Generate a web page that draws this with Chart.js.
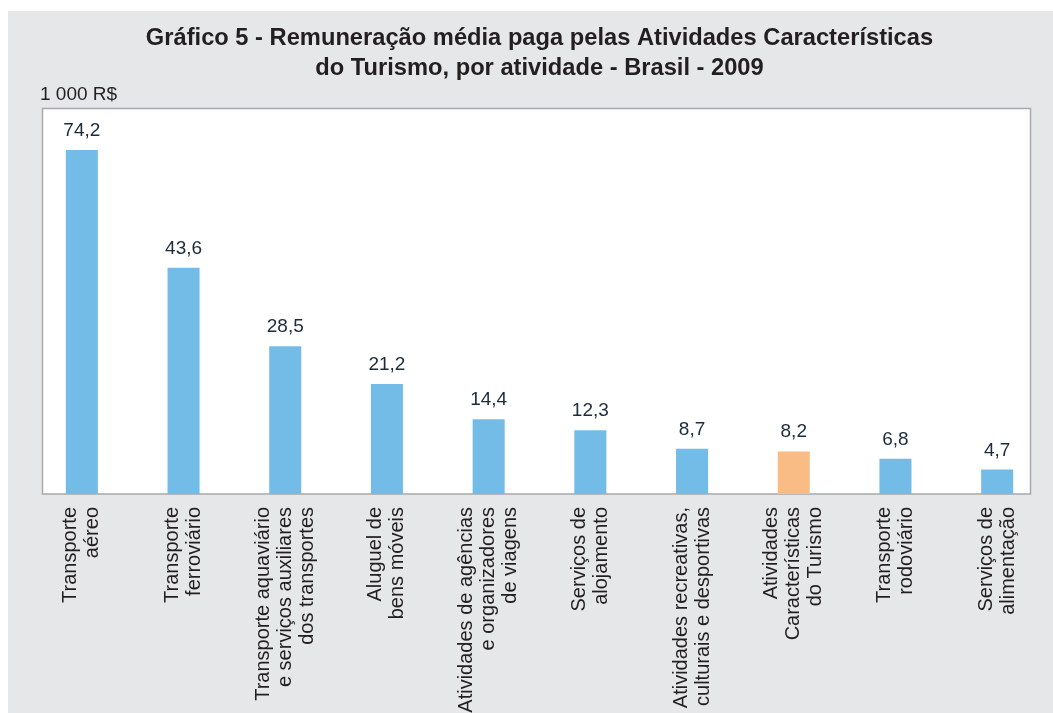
<!DOCTYPE html>
<html>
<head>
<meta charset="utf-8">
<script src="https://cdn.jsdelivr.net/npm/chart.js@4.4.0/dist/chart.umd.min.js"></script>
<style>
  html, body { margin: 0; padding: 0; background: #fff; }
  #wrap { width: 1053px; height: 713px; }
</style>
</head>
<body>
<div id="wrap"><canvas id="chart"></canvas></div>
<script>
// categories (each entry split into the lines used under the bars)
const activities = [
  ['Transporte', 'aéreo'],
  ['Transporte', 'ferroviário'],
  ['Transporte aquaviário', 'e serviços auxiliares', 'dos transportes'],
  ['Aluguel de', 'bens móveis'],
  ['Atividades de agências', 'e organizadores', 'de viagens'],
  ['Serviços de', 'alojamento'],
  ['Atividades recreativas,', 'culturais e desportivas'],
  ['Atividades', 'Características', 'do Turismo'],
  ['Transporte', 'rodoviário'],
  ['Serviços de', 'alimentação'],
];
// remuneração média, 1 000 R$
const averagePay = [74.2, 43.6, 28.5, 21.2, 14.4, 12.3, 8.7, 8.2, 6.8, 4.7];
const totalIndex = 7; // "Atividades Características do Turismo" is the overall total

const titleLines = [
  'Gráfico 5 - Remuneração média paga pelas Atividades Características',
  'do Turismo, por atividade - Brasil - 2009',
];
const unitLabel = '1 000 R$';

const BLUE = '#74bce8';
const ORANGE = '#f9bc85';
const TEXT = '#231f20';
const FONT = '"Liberation Sans", Arial, sans-serif';

const fmt = (v) => v.toFixed(1).replace('.', ',');

// grey page, white plot frame and unit label
const framePlugin = {
  id: 'frame',
  beforeDraw(chart) {
    const { ctx, chartArea } = chart;
    ctx.save();
    ctx.fillStyle = '#e6e7e8';
    ctx.fillRect(8, 11, chart.width - 8, chart.height - 11);

    const left = 42.5, right = 1030.5, top = 108.5, bottom = chartArea.bottom;
    ctx.fillStyle = '#fff';
    ctx.fillRect(left, top, right - left, bottom - top);
    ctx.strokeStyle = '#a7a9ac';
    ctx.lineWidth = 1.5;
    ctx.strokeRect(left, top, right - left, bottom - top);

    ctx.fillStyle = TEXT;
    ctx.font = '19px ' + FONT;
    ctx.textAlign = 'left';
    ctx.textBaseline = 'alphabetic';
    ctx.fillText(unitLabel, 40, 100);
    ctx.restore();
  },
};

// vertical category names, line block centred on each tick
const categoryLabels = {
  id: 'categoryLabels',
  afterDraw(chart) {
    const { ctx, chartArea } = chart;
    const xScale = chart.scales.x;
    const lineH = 22;
    ctx.save();
    ctx.fillStyle = TEXT;
    ctx.font = '20px ' + FONT;
    ctx.textAlign = 'right';
    ctx.textBaseline = 'middle';
    activities.forEach((lines, i) => {
      const px = xScale.getPixelForValue(i);
      lines.forEach((line, j) => {
        const x = px + (j - (lines.length - 1) / 2) * lineH;
        ctx.save();
        ctx.translate(x, chartArea.bottom + 13);
        ctx.rotate(-Math.PI / 2);
        ctx.fillText(line, 0, 0);
        ctx.restore();
      });
    });
    ctx.restore();
  },
};

// value over each bar (first bar is cut at the top of the plot)
const valueLabels = {
  id: 'valueLabels',
  afterDatasetsDraw(chart) {
    const { ctx, chartArea } = chart;
    const meta = chart.getDatasetMeta(0);
    ctx.save();
    ctx.fillStyle = '#1c2b3a';
    ctx.font = '19px ' + FONT;
    ctx.textAlign = 'center';
    ctx.textBaseline = 'alphabetic';
    meta.data.forEach((bar, i) => {
      const y = Math.max(bar.y, chartArea.top);
      ctx.fillText(fmt(averagePay[i]), bar.x, y - 14);
    });
    ctx.restore();
  },
};

new Chart(document.getElementById('chart'), {
  type: 'bar',
  data: {
    labels: activities.map((l) => l.join(' ')),
    datasets: [
      {
        data: averagePay,
        backgroundColor: (c) => (c.dataIndex === totalIndex ? ORANGE : BLUE),
        borderWidth: 0,
        categoryPercentage: 1,
        barPercentage: 0.315,
        clip: 0,
      },
    ],
  },
  options: {
    responsive: true,
    maintainAspectRatio: false,
    animation: false,
    layout: { padding: { left: 31, right: 5, top: 0, bottom: 0 } },
    plugins: {
      legend: { display: false },
      tooltip: { enabled: false },
      title: {
        display: true,
        text: titleLines,
        color: TEXT,
        font: { family: FONT, size: 23.7, weight: 'bold', lineHeight: 30 / 23.7 },
        padding: { top: 23, bottom: 67 },
      },
    },
    scales: {
      x: {
        grid: { display: false, drawTicks: false },
        border: { display: false },
        ticks: { display: false },
        afterFit: (scale) => { scale.height = 219; },
      },
      y: {
        display: false,
        min: 0,
        max: 66.3,
      },
    },
  },
  plugins: [framePlugin, valueLabels, categoryLabels],
});
</script>
</body>
</html>
